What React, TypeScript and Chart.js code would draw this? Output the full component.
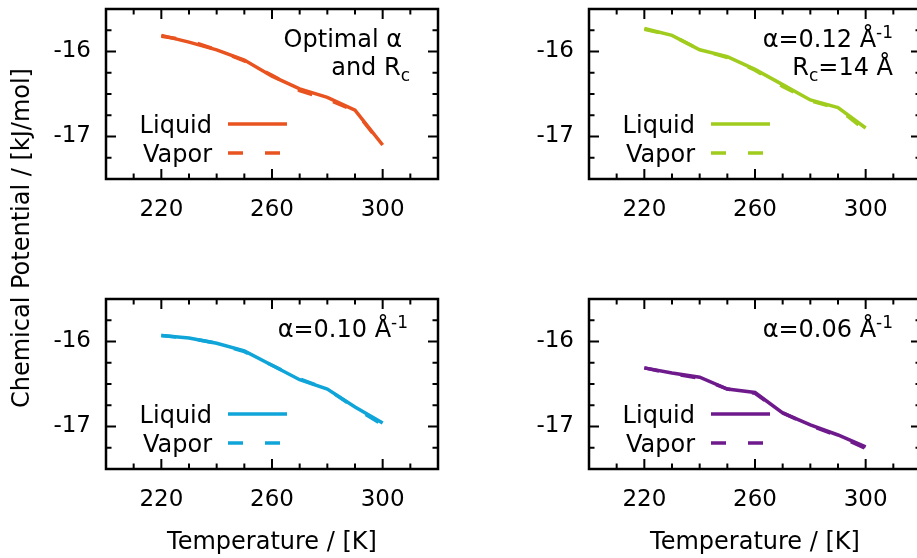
import React, { useEffect, useRef } from 'react';
import { Chart, registerables } from 'chart.js';

Chart.register(...registerables);

// ---------------- data ----------------
const temperatures = [220, 230, 240, 250, 260, 270, 280, 290, 300];

const optimalLiquid = [-15.81, -15.89, -15.98, -16.1, -16.29, -16.44, -16.54, -16.69, -17.1];
const optimalVapor = [-15.82, -15.87, -15.98, -16.11, -16.28, -16.46, -16.56, -16.7, -17.11];

const alpha012Liquid = [-15.73, -15.81, -15.98, -16.06, -16.21, -16.39, -16.57, -16.66, -16.9];
const alpha012Vapor = [-15.74, -15.81, -15.98, -16.07, -16.22, -16.41, -16.58, -16.67, -16.93];

const alpha010Liquid = [-15.93, -15.96, -16.02, -16.11, -16.28, -16.45, -16.56, -16.77, -16.96];
const alpha010Vapor = [-15.93, -15.96, -16.02, -16.12, -16.28, -16.44, -16.56, -16.78, -16.98];

const alpha006Liquid = [-16.31, -16.37, -16.42, -16.56, -16.6, -16.84, -16.98, -17.1, -17.24];
const alpha006Vapor = [-16.31, -16.38, -16.43, -16.56, -16.61, -16.84, -16.99, -17.11, -17.26];

const xTickLabels = [220, 260, 300];
const yTickLabels = [-16, -17];
const xRange = [200, 320];
const yRange = [-17.5, -15.5];
const seriesNames = ['Liquid', 'Vapor'];
const yTitle = 'Chemical Potential / [kJ/mol]';
const xTitle = 'Temperature / [K]';

// ---------------- style ----------------
const FONT = '"DejaVu Sans", sans-serif';
const TEXT_SIZE = 24;
const TICK_SIZE = 23;
const SMALL_SIZE = 17;
const AREA_W = 332;
const AREA_H = 170;
const PAD_L = 80;
const PAD_T = 10;
const PAD_R = 14;
const PAD_B = 60;

type Seg = { t: string; s?: 'sub' | 'sup' };

interface PanelDef {
  left: number;
  top: number;
  color: string;
  liquid: number[];
  vapor: number[];
  notes: { segs: Seg[]; right: number; base: number }[];
}

const panels: PanelDef[] = [
  {
    left: 106, top: 9, color: '#e8531f', liquid: optimalLiquid, vapor: optimalVapor,
    notes: [
      { segs: [{ t: 'Optimal α' }], right: 36, base: 38 },
      { segs: [{ t: 'and R' }, { t: 'c', s: 'sub' }], right: 28, base: 66 },
    ],
  },
  {
    left: 589, top: 9, color: '#a0cc1e', liquid: alpha012Liquid, vapor: alpha012Vapor,
    notes: [
      { segs: [{ t: 'α=0.12 Å' }, { t: '-1', s: 'sup' }], right: 28, base: 38 },
      { segs: [{ t: 'R' }, { t: 'c', s: 'sub' }, { t: '=14 Å' }], right: 28, base: 66 },
    ],
  },
  {
    left: 106, top: 299, color: '#10a5d8', liquid: alpha010Liquid, vapor: alpha010Vapor,
    notes: [{ segs: [{ t: 'α=0.10 Å' }, { t: '-1', s: 'sup' }], right: 30, base: 38 }],
  },
  {
    left: 589, top: 299, color: '#6e1a8c', liquid: alpha006Liquid, vapor: alpha006Vapor,
    notes: [{ segs: [{ t: 'α=0.06 Å' }, { t: '-1', s: 'sup' }], right: 28, base: 38 }],
  },
];

const VAPOR_DASH = [15, 22];

function drawRich(ctx: CanvasRenderingContext2D, segs: Seg[], right: number, baseline: number) {
  const fontFor = (s: Seg) => (s.s ? `${SMALL_SIZE}px ${FONT}` : `${TEXT_SIZE}px ${FONT}`);
  let w = 0;
  for (const s of segs) {
    ctx.font = fontFor(s);
    w += ctx.measureText(s.t).width;
  }
  let x = right - w;
  ctx.textAlign = 'left';
  ctx.textBaseline = 'alphabetic';
  ctx.fillStyle = '#000';
  for (const s of segs) {
    ctx.font = fontFor(s);
    const dy = s.s === 'sub' ? 6 : s.s === 'sup' ? -9 : 0;
    ctx.fillText(s.t, x, baseline + dy);
    x += ctx.measureText(s.t).width;
  }
}

function Panel({ def }: { def: PanelDef }) {
  const ref = useRef<HTMLCanvasElement | null>(null);

  useEffect(() => {
    if (!ref.current) return;
    const framePlugin = {
      id: 'frame',
      afterDraw(chart: any) {
        const ctx: CanvasRenderingContext2D = chart.ctx;
        const a = chart.chartArea;
        const xs = chart.scales.x;
        const ys = chart.scales.y;
        ctx.save();
        // ticks (inward, mirrored)
        ctx.strokeStyle = '#000';
        ctx.lineWidth = 2;
        ctx.beginPath();
        for (let v = xRange[0] + 10; v < xRange[1]; v += 10) {
          const px = xs.getPixelForValue(v);
          const len = xTickLabels.includes(v) ? 10 : 5.5;
          ctx.moveTo(px, a.bottom);
          ctx.lineTo(px, a.bottom - len);
          ctx.moveTo(px, a.top);
          ctx.lineTo(px, a.top + len);
        }
        for (let k = 1; k < 8; k++) {
          const v = yRange[0] + k * 0.25;
          const py = ys.getPixelForValue(v);
          const len = yTickLabels.includes(v) ? 10 : 5.5;
          ctx.moveTo(a.left, py);
          ctx.lineTo(a.left + len, py);
          ctx.moveTo(a.right, py);
          ctx.lineTo(a.right - len, py);
        }
        ctx.stroke();
        // border
        ctx.lineWidth = 2.5;
        ctx.strokeRect(a.left, a.top, a.right - a.left, a.bottom - a.top);

        // legend
        ctx.font = `${TEXT_SIZE}px ${FONT}`;
        ctx.fillStyle = '#000';
        ctx.textAlign = 'right';
        ctx.textBaseline = 'alphabetic';
        const lx = a.left + 106;
        ctx.fillText(seriesNames[0], lx, a.top + 123.5);
        ctx.fillText(seriesNames[1], lx, a.top + 152.5);
        ctx.strokeStyle = def.color;
        ctx.lineWidth = 3.5;
        ctx.beginPath();
        ctx.moveTo(a.left + 122, a.top + 115);
        ctx.lineTo(a.left + 181, a.top + 115);
        ctx.stroke();
        ctx.setLineDash(VAPOR_DASH);
        ctx.beginPath();
        ctx.moveTo(a.left + 122, a.top + 144);
        ctx.lineTo(a.left + 181, a.top + 144);
        ctx.stroke();
        ctx.setLineDash([]);

        // annotation
        for (const n of def.notes) {
          drawRich(ctx, n.segs, a.right - n.right, a.top + n.base);
        }
        ctx.restore();
      },
    };

    const chart = new Chart(ref.current, {
      type: 'line',
      data: {
        datasets: [
          {
            label: seriesNames[0],
            data: temperatures.map((t, i) => ({ x: t, y: def.liquid[i] })),
            borderColor: def.color,
            backgroundColor: def.color,
            borderWidth: 3.5,
            pointRadius: 0,
            tension: 0,
            fill: false,
          },
          {
            label: seriesNames[1],
            data: temperatures.map((t, i) => ({ x: t, y: def.vapor[i] })),
            borderColor: def.color,
            backgroundColor: def.color,
            borderWidth: 3.5,
            borderDash: VAPOR_DASH,
            pointRadius: 0,
            tension: 0,
            fill: false,
          },
        ],
      },
      options: {
        responsive: false,
        animation: false,
        devicePixelRatio: 1,
        layout: { padding: { top: PAD_T, right: PAD_R, left: 0, bottom: 0 } },
        plugins: { legend: { display: false }, tooltip: { enabled: false } },
        scales: {
          x: {
            type: 'linear',
            min: xRange[0],
            max: xRange[1],
            afterBuildTicks: (s: any) => {
              s.ticks = xTickLabels.map((v) => ({ value: v }));
            },
            afterFit: (s: any) => {
              s.height = PAD_B;
              s.paddingLeft = 0;
              s.paddingRight = 0;
            },
            grid: { display: false, drawTicks: false },
            border: { display: false },
            ticks: {
              color: '#000',
              font: { family: FONT, size: TICK_SIZE },
              padding: 17,
              maxRotation: 0,
              autoSkip: false,
              callback: (v: any) => String(v),
            },
          },
          y: {
            type: 'linear',
            min: yRange[0],
            max: yRange[1],
            afterBuildTicks: (s: any) => {
              s.ticks = yTickLabels.map((v) => ({ value: v }));
            },
            afterFit: (s: any) => {
              s.width = PAD_L;
              s.paddingTop = 0;
              s.paddingBottom = 0;
            },
            grid: { display: false, drawTicks: false },
            border: { display: false },
            ticks: {
              color: '#000',
              font: { family: FONT, size: TICK_SIZE },
              padding: 15,
              autoSkip: false,
              callback: (v: any) => String(v),
            },
          },
        },
      } as any,
      plugins: [framePlugin],
    });
    return () => chart.destroy();
  }, [def]);

  const w = PAD_L + AREA_W + PAD_R;
  const h = PAD_T + AREA_H + PAD_B;
  return (
    <canvas
      ref={ref}
      width={w}
      height={h}
      style={{ position: 'absolute', left: def.left - PAD_L, top: def.top - PAD_T, width: w, height: h }}
    />
  );
}

export default function App() {
  const textStyle: React.CSSProperties = {
    position: 'absolute',
    fontFamily: FONT,
    fontSize: TEXT_SIZE,
    lineHeight: '28px',
    color: '#000',
    whiteSpace: 'nowrap',
  };
  return (
    <div
      style={{
        position: 'fixed',
        left: 0,
        top: 0,
        width: 917,
        height: 558,
        overflow: 'hidden',
        background: '#fff',
      }}
    >
      {panels.map((p, i) => (
        <Panel key={i} def={p} />
      ))}
      <div
        style={{
          ...textStyle,
          left: 21,
          top: 238,
          transform: 'translate(-50%, -50%) rotate(-90deg)',
        }}
      >
        {yTitle}
      </div>
      <div style={{ ...textStyle, left: 272, top: 527, transform: 'translateX(-50%)' }}>{xTitle}</div>
      <div style={{ ...textStyle, left: 755, top: 527, transform: 'translateX(-50%)' }}>{xTitle}</div>
    </div>
  );
}
